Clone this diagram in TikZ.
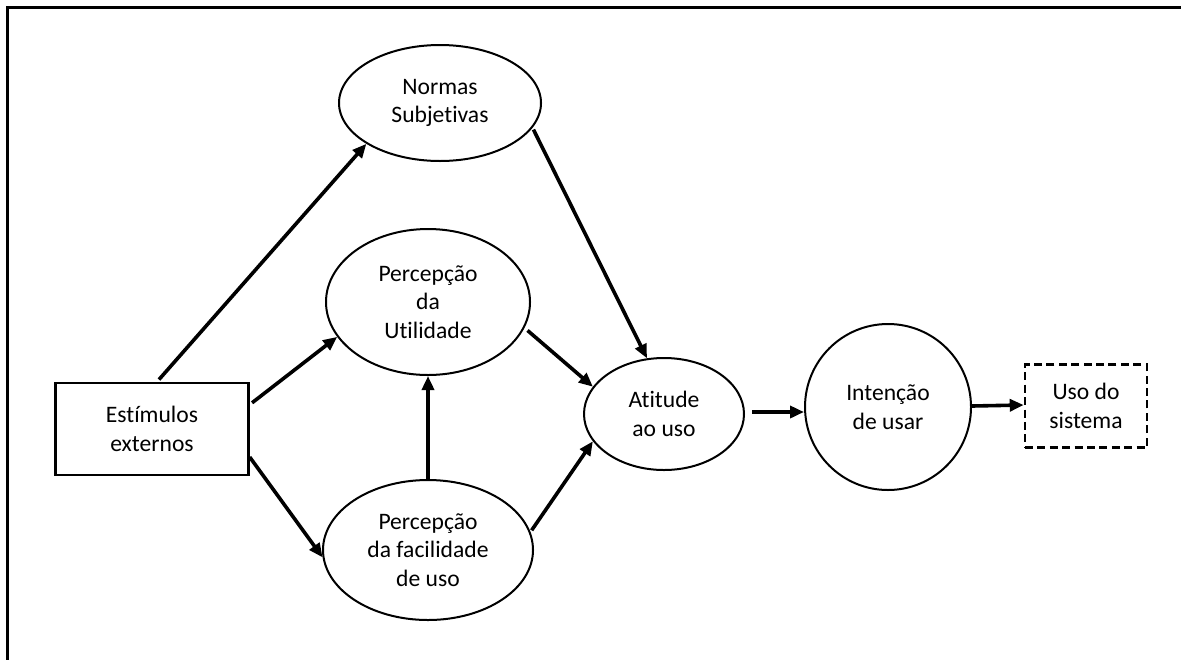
\documentclass[tikz,border=0pt]{standalone}
\usepackage{fontspec}
\setmainfont[Ligatures=CommonOff]{Carlito}
\usetikzlibrary{shapes.geometric,arrows.meta}
\begin{document}
\begin{tikzpicture}[x=0.5pt,y=-0.5pt,
  every node/.style={font=\fontsize{11.8}{14.2}\selectfont, align=center, inner sep=0pt},
  oval/.style={ellipse, draw, line width=1pt},
  roundnode/.style={circle, draw, line width=1pt},
  boxnode/.style={rectangle, draw, line width=1.2pt},
  dashbox/.style={rectangle, draw, line width=1.3pt, dash pattern=on 4pt off 2.2pt},
  link/.style={line width=1.8pt, -{Triangle[length=7pt,width=6pt]}}]
  \useasboundingbox (0,0) rectangle (1181,659);
  % frame
  \draw[line width=1.5pt] (7,670) -- (7,7) -- (1195,7);
  % nodes
  \node[boxnode, minimum width=96.5pt, minimum height=46pt] (est) at (152,429) {Estímulos\\externos};
  \node[oval, minimum width=101pt, minimum height=58pt] (norm) at (440,103) {Normas\\Subjetivas};
  \node[oval, minimum width=102pt, minimum height=73pt] (util) at (428,302) {Percepção\\da\\Utilidade};
  \node[oval, minimum width=105pt, minimum height=70pt] (fac) at (428,550) {Percepção\\da facilidade\\de uso};
  \node[oval, minimum width=80pt, minimum height=56pt] (att) at (664,414) {Atitude\\ao uso};
  \node[roundnode, minimum size=83pt] (int) at (888,407) {Intenção\\de usar};
  \node[dashbox, minimum width=61pt, minimum height=41.5pt] (uso) at (1086,406) {Uso do\\sistema};
  % connectors
  \draw[link, shorten <=1.5pt] ([xshift=2.5pt]est.north) -- (norm.209);
  \draw[link, shorten <=1.5pt] (est.14.5) -- (util.201);
  \draw[link] (est.-16.5) -- (fac.184);
  \draw[link] (fac.north) -- (util.south);
  \draw[link, shorten <=1pt] (norm.-15.5) -- (att.107);
  \draw[link, shorten <=2pt] (util.-15.3) -- (att.159);
  \draw[link, shorten <=1pt] (fac.10) -- (att.201.5);
  \draw[link, shorten <=3.5pt] ([yshift=1pt]att.east) -- ([yshift=1pt]att.east -| int.west);
  \draw[link] ([yshift=0.5pt]int.east) -- ([yshift=0.5pt]uso.west);
\end{tikzpicture}
\end{document}
